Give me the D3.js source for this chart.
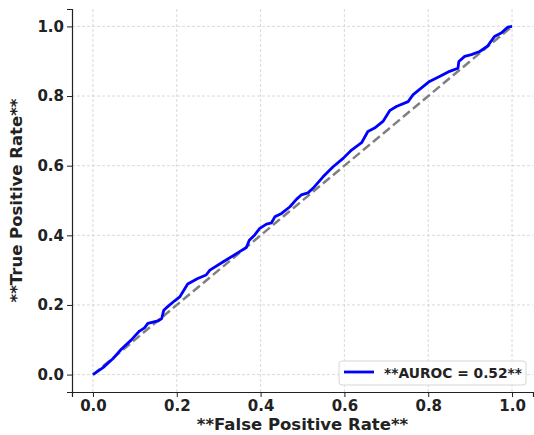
<!DOCTYPE html>
<html>
<head>
<meta charset="utf-8">
<script src="https://cdn.jsdelivr.net/npm/d3@7"></script>
<style>
  body { margin: 0; background: #fff; }
  text { font-family: "DejaVu Sans", sans-serif; font-weight: bold; fill: #222; }
</style>
</head>
<body>
<div id="chart"></div>
<script>
// ROC curve points
var fpr = [0, 0.024, 0.048, 0.067, 0.091, 0.111, 0.123, 0.131, 0.155, 0.164, 0.169, 0.179, 0.195, 0.207, 0.226, 0.250, 0.270,
  0.279, 0.311, 0.350, 0.366, 0.373, 0.386, 0.398, 0.414, 0.426, 0.434, 0.450, 0.470, 0.486, 0.497, 0.513,
  0.525, 0.549, 0.573, 0.597, 0.617, 0.641, 0.656, 0.672, 0.692, 0.708, 0.724, 0.752,
  0.764, 0.803, 0.827, 0.851, 0.871, 0.873, 0.887, 0.903, 0.923, 0.942, 0.958, 0.974, 0.990, 1.0];
var tpr = [0, 0.020, 0.046, 0.072, 0.099, 0.125, 0.134, 0.147, 0.154, 0.161, 0.185, 0.196, 0.212, 0.223, 0.260, 0.276, 0.286,
  0.300, 0.324, 0.353, 0.365, 0.386, 0.401, 0.420, 0.432, 0.436, 0.453, 0.463, 0.482, 0.504, 0.516, 0.522,
  0.535, 0.568, 0.597, 0.621, 0.645, 0.666, 0.698, 0.708, 0.727, 0.758, 0.770, 0.784,
  0.804, 0.842, 0.856, 0.871, 0.880, 0.899, 0.914, 0.919, 0.928, 0.944, 0.971, 0.981, 0.998, 1.0];
var ticks = [0, 0.2, 0.4, 0.6, 0.8, 1.0];
var legendLabel = "**AUROC = 0.52**";

var margin = {top: 9, right: 1, bottom: 43, left: 72},
    width = 534 - margin.left - margin.right,
    height = 435 - margin.top - margin.bottom;

var svg = d3.select("#chart")
  .append("svg")
    .attr("width", 534)
    .attr("height", 435)
  .append("g")
    .attr("transform", "translate(" + margin.left + "," + margin.top + ")");

var x = d3.scaleLinear().domain([-0.05, 1.05]).range([0, width]);
var y = d3.scaleLinear().domain([-0.05, 1.05]).range([height, 0]);

// grid
svg.append("g").selectAll("line.gx").data(ticks).enter().append("line")
  .attr("x1", d => x(d)).attr("x2", d => x(d))
  .attr("y1", 0).attr("y2", height)
  .style("stroke", "#d0d0d0").style("stroke-width", 0.8).style("stroke-dasharray", "3,2");
svg.append("g").selectAll("line.gy").data(ticks).enter().append("line")
  .attr("x1", 0).attr("x2", width)
  .attr("y1", d => y(d)).attr("y2", d => y(d))
  .style("stroke", "#d0d0d0").style("stroke-width", 0.8).style("stroke-dasharray", "3,2");

// axes
var xAxis = svg.append("g")
  .attr("transform", "translate(0," + height + ")")
  .call(d3.axisBottom(x).tickValues(ticks).tickFormat(d3.format(".1f")).tickSizeOuter(0).tickSize(5).tickPadding(3));
var yAxis = svg.append("g")
  .call(d3.axisLeft(y).tickValues(ticks).tickFormat(d3.format(".1f")).tickSizeOuter(0).tickSize(5).tickPadding(3));
[xAxis, yAxis].forEach(function(a) {
  a.select(".domain").style("stroke", "#222").style("stroke-width", 1.2);
  a.selectAll(".tick line").style("stroke", "#222").style("stroke-width", 1);
  a.selectAll(".tick text").style("font-size", "15px").style("font-family", "DejaVu Sans").style("font-weight", "bold").attr("fill", "#222");
});

// diagonal
svg.append("line")
  .attr("x1", x(0)).attr("y1", y(0)).attr("x2", x(1)).attr("y2", y(1))
  .style("stroke", "#808080").style("stroke-width", 2.5).style("stroke-dasharray", "9,4");

// roc curve
var pts = fpr.map((f, i) => [f, tpr[i]]);
svg.append("path")
  .datum(pts)
  .attr("d", d3.line().x(d => x(d[0])).y(d => y(d[1])))
  .style("fill", "none").style("stroke", "#0000ff").style("stroke-width", 2.8).style("stroke-linejoin", "round");

// axis labels
svg.append("text")
  .attr("x", width / 2).attr("y", height + 38)
  .attr("text-anchor", "middle").style("font-size", "16.5px")
  .text("**False Positive Rate**");
svg.append("text")
  .attr("transform", "translate(-50," + (height / 2) + ") rotate(-90)")
  .attr("text-anchor", "middle").style("font-size", "16.5px")
  .text("**True Positive Rate**");

// legend
var lg = svg.append("g").attr("transform", "translate(" + (339 - margin.left) + "," + (361 - margin.top) + ")");
lg.append("rect").attr("width", 187).attr("height", 24).attr("rx", 3)
  .style("fill", "rgba(255,255,255,0.85)").style("stroke", "#d6d6d6").style("stroke-width", 1);
lg.append("line").attr("x1", 5).attr("x2", 35).attr("y1", 11).attr("y2", 11)
  .style("stroke", "#0000ff").style("stroke-width", 2.8);
lg.append("text").attr("x", 45).attr("y", 16.5).style("font-size", "13.8px").text(legendLabel);
</script>
</body>
</html>
